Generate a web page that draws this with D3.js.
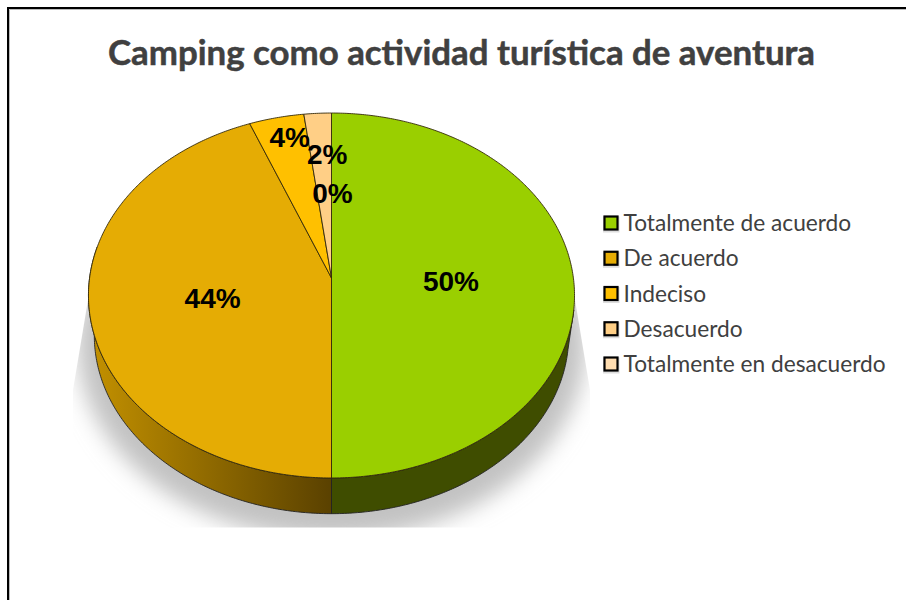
<!DOCTYPE html>
<html><head><meta charset="utf-8">
<style>html,body{margin:0;padding:0;background:#fff}svg{display:block}</style>
<script src="https://cdn.jsdelivr.net/npm/d3@7/dist/d3.min.js"></script>
</head><body><svg id="c" width="906" height="600"></svg>
<script>
const titleText = "Camping como actividad turística de aventura";
const categories = ["Totalmente de acuerdo","De acuerdo","Indeciso","Desacuerdo","Totalmente en desacuerdo"];
const values = [50,44,4,2,0];
const labels = ["50%","44%","4%","2%","0%"];
const colors = ["#9ACF00","#E5AC04","#FFC000","#FFCF86","#FFDDB0"];
// label nudges in px from the projected mid radius of each slice
const labelNudge = [[-1.5,3],[1,3],[-13,-57],[3,-37],[1,2]];

const svg = d3.select("#c");
const defs = svg.append("defs");

// frame (open on the right and bottom, faint grey inner edge)
svg.append("path").attr("d","M9.5,600V9.5H906").attr("fill","none").attr("stroke","#bbb").attr("stroke-width",1);
svg.append("path").attr("d","M8,600V8H906").attr("fill","none").attr("stroke","#000").attr("stroke-width",2);

// title
svg.append("text").attr("x",461.5).attr("y",65).attr("text-anchor","middle")
  .attr("font-family","Lato").attr("font-weight",700).attr("font-size",34.5)
  .attr("fill","#404040").attr("stroke","#404040").attr("stroke-width",0.5)
  .attr("textLength",707).attr("lengthAdjust","spacingAndGlyphs").text(titleText);

// perspective projection of the pie disc: unit disc -> screen
const apex = {x:331.5,y:278}, A = 180.8, B = 241.9, k = 0.0959;
const proj = (a,r=1,dy=0,s=1)=>{
  const u = r*Math.sin(a), v = r*Math.cos(a), w = 1+k*v;
  return [apex.x + s*B*u/w, apex.y + dy - s*A*v/w];
};
const pie = d3.pie().sort(null).value(d=>d)(values);
const line = d3.line();
const arcPts = (a0,a1,dy=0,s=1)=>{
  const n = Math.max(2,Math.ceil(Math.abs(a1-a0)/0.01));
  return d3.range(n+1).map(i=>proj(a0+(a1-a0)*i/n,1,dy,s));
};

// shadow
defs.append("filter").attr("id","blur").attr("x","-20%").attr("y","-20%").attr("width","140%").attr("height","140%")
  .append("feGaussianBlur").attr("stdDeviation",11);
defs.append("clipPath").attr("id","shClip").append("path").attr("d","M88,300L73,390V527.5H590V390L575,300Z");
svg.append("g").attr("clip-path","url(#shClip)").append("ellipse")
  .attr("cx",331.5).attr("cy",345).attr("rx",254).attr("ry",194)
  .attr("fill","#c2c2c2").attr("filter","url(#blur)");

// side wall (extruded lower half)
const depth = 40.5, sb = 0.976;
const g1 = defs.append("linearGradient").attr("id","wallGold").attr("gradientUnits","userSpaceOnUse")
  .attr("x1",92).attr("x2",331.5).attr("y1",0).attr("y2",0);
g1.append("stop").attr("offset",0).attr("stop-color","#C29000");
g1.append("stop").attr("offset",1).attr("stop-color","#5A4100");

const wall = (a0,a1)=>{
  const top = arcPts(a0,a1,0,1), bot = arcPts(a1,a0,depth,sb);
  return line(top.concat(bot))+"Z";
};
const deg = Math.PI/180;
const wallData = [
  {a0:pie[0].startAngle+100*deg,a1:pie[0].endAngle,fill:"#3F4D00"},
  {a0:pie[1].startAngle,a1:pie[1].startAngle+100*deg,fill:"url(#wallGold)"}
];
svg.selectAll("path.wall").data(wallData).join("path").attr("class","wall")
  .attr("d",d=>wall(d.a0,d.a1)).attr("fill",d=>d.fill)
  .attr("stroke","#222").attr("stroke-width",0.9).attr("stroke-linejoin","round");

// top face
svg.selectAll("path.slice").data(pie.filter(d=>d.value>0)).join("path").attr("class","slice")
  .attr("d",d=>line([[apex.x,apex.y]].concat(arcPts(d.startAngle,d.endAngle)))+"Z")
  .attr("fill",d=>colors[d.index]).attr("stroke","#33290a").attr("stroke-width",0.9).attr("stroke-linejoin","round");

// data labels
svg.selectAll("text.lab").data(pie).join("text").attr("class","lab")
  .attr("x",d=>proj((d.startAngle+d.endAngle)/2,0.5)[0]+labelNudge[d.index][0])
  .attr("y",d=>proj((d.startAngle+d.endAngle)/2,0.5)[1]+labelNudge[d.index][1])
  .attr("text-anchor","middle").attr("dominant-baseline","central")
  .attr("font-family","Liberation Sans").attr("font-weight",700).attr("font-size",28).attr("fill","#000")
  .text(d=>labels[d.index]);

// legend
const ly = d3.scalePoint().domain(categories).range([223,364]);
const leg = svg.selectAll("g.leg").data(categories).join("g").attr("class","leg")
  .attr("transform",d=>`translate(0,${ly(d)})`);
leg.append("rect").attr("x",603).attr("y",-6.5).attr("width",16.5).attr("height",16)
  .attr("fill","#ddd");
leg.append("rect").attr("x",604.5).attr("y",-6.5).attr("width",13).attr("height",13)
  .attr("fill",(d,i)=>colors[i]).attr("stroke","#000").attr("stroke-width",2.2);
leg.append("text").attr("x",623.5).attr("y",-0.5).attr("dominant-baseline","central")
  .attr("font-family","Lato").attr("font-size",22.7).attr("fill","#404040").text(d=>d);
</script></body></html>
